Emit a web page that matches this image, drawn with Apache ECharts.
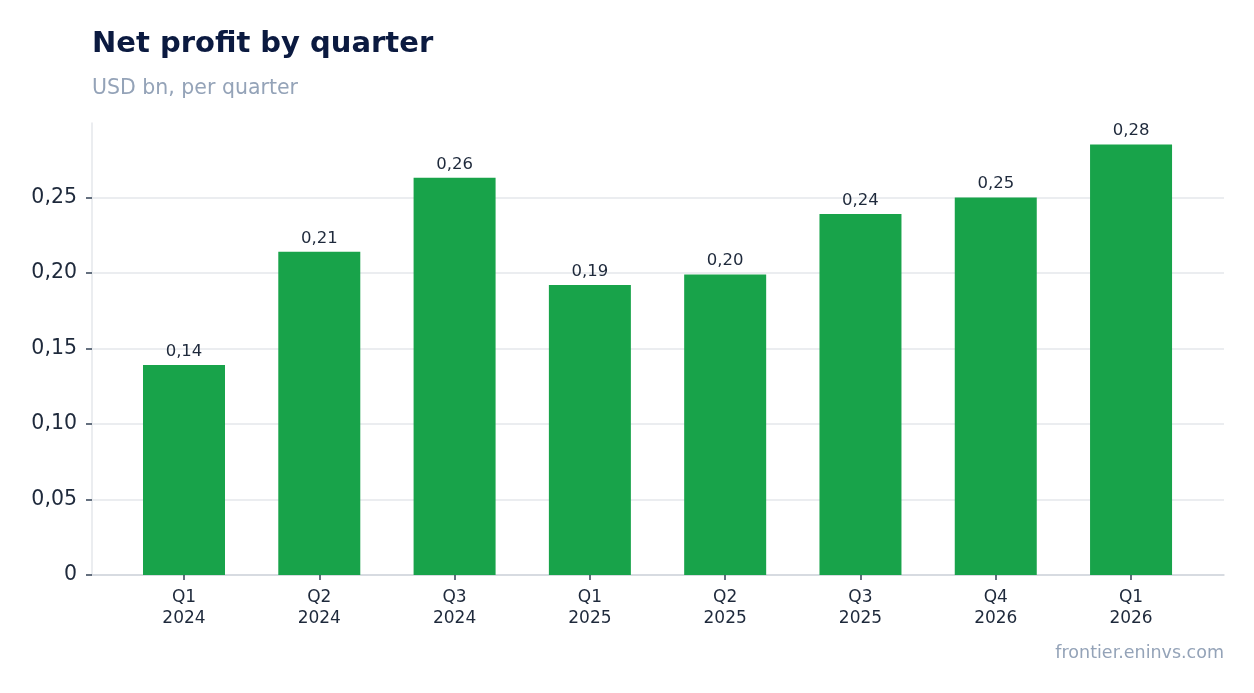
<!DOCTYPE html>
<html>
<head>
<meta charset="utf-8">
<script src="https://cdn.jsdelivr.net/npm/echarts@6/dist/echarts.min.js"></script>
<style>
html,body{margin:0;padding:0;background:#fff;}
#chart{width:1254px;height:693px;}
</style>
</head>
<body>
<div id="chart"></div>
<script>
const quarters = ['Q1\n2024','Q2\n2024','Q3\n2024','Q1\n2025','Q2\n2025','Q3\n2025','Q4\n2026','Q1\n2026'];
const netProfit = [0.139, 0.214, 0.263, 0.192, 0.199, 0.239, 0.250, 0.285];
const yTicks = [0, 0.05, 0.10, 0.15, 0.20, 0.25];

function fmt(v, digits) {
  if (v === 0) return '0';
  return v.toFixed(digits).replace('.', ',');
}

const xPositions = quarters.map(function (_, i) { return i; });
const barData = netProfit.map(function (v, i) { return [i, v]; });

const chart = echarts.init(document.getElementById('chart'), null, {renderer: 'canvas'});
chart.setOption({
  backgroundColor: '#ffffff',
  animation: false,
  textStyle: {fontFamily: 'DejaVu Sans'},
  title: [
    {text: 'Net profit by quarter', left: 92, top: 30, padding: 0,
     textStyle: {fontFamily: 'DejaVu Sans', fontSize: 29, fontWeight: 'bold', color: '#0b1a40'}},
    {text: 'USD bn, per quarter', left: 92, top: 78, padding: 0,
     textStyle: {fontFamily: 'DejaVu Sans', fontSize: 20.5, fontWeight: 'normal', color: '#94a3b8'}}
  ],
  graphic: [{
    type: 'text', right: 30, top: 644,
    style: {text: 'frontier.eninvs.com', fontFamily: 'DejaVu Sans', fontSize: 17.5, fill: '#94a3b8'}
  }],
  grid: {left: 92, right: 30, top: 123, bottom: 118, containLabel: false, outerBoundsMode: 'none'},
  xAxis: {
    type: 'value',
    min: -0.68,
    max: 7.687,
    splitLine: {show: false},
    axisLine: {show: true, onZero: false, lineStyle: {color: '#d1d5db', width: 1.5}},
    axisTick: {show: true, length: 5, customValues: xPositions, lineStyle: {color: '#334155', width: 1.5}},
    axisLabel: {fontSize: 17, color: '#1e293b', lineHeight: 21, margin: 12, fontFamily: 'DejaVu Sans',
      customValues: xPositions,
      formatter: function (v) { return quarters[Math.round(v)] || ''; }}
  },
  yAxis: {
    type: 'value',
    min: 0,
    max: function (v) { return v.max * 1.05; },
    interval: 0.05,
    axisLine: {show: true, onZero: false, lineStyle: {color: '#e5e7eb', width: 1.5}},
    axisTick: {show: true, length: 6, customValues: yTicks, lineStyle: {color: '#334155', width: 1.5}},
    axisLabel: {fontSize: 20.5, color: '#1e293b', margin: 15, customValues: yTicks, padding: [9, 0, 0, 0],
      fontFamily: 'DejaVu Sans', formatter: function (v) { return fmt(v, 2); }},
    splitLine: {show: true, lineStyle: {color: '#e5e7eb', width: 1.5}}
  },
  series: [{
    type: 'bar',
    data: barData,
    barWidth: 82,
    itemStyle: {color: '#18a34a'},
    label: {show: true, position: 'top', distance: 5, fontSize: 16.5, color: '#1e293b',
      fontFamily: 'DejaVu Sans', formatter: function (p) { return fmt(p.value[1], 2); }}
  }]
});
</script>
</body>
</html>
